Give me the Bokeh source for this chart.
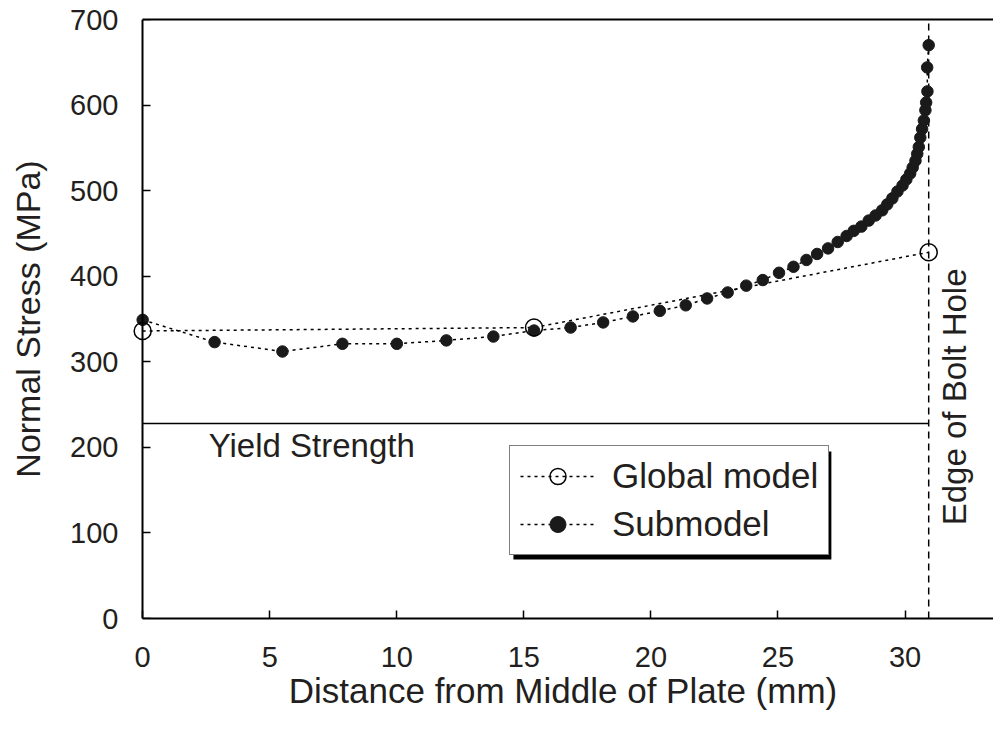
import math
from bokeh.plotting import figure
from bokeh.models import (Range1d, FixedTicker, Label, Legend, LegendItem,
                          BoxAnnotation, LinearAxis)
from bokeh.embed import file_html
from bokeh.resources import INLINE

# ---- data ----
global_x = [0.0, 15.4, 30.93]
global_y = [336, 340, 428]

sub_x = [0.0, 2.83, 5.5, 7.86, 10.0, 11.95, 13.8, 15.4, 16.84, 18.12, 19.29,
         20.35, 21.37, 22.21, 23.02, 23.75, 24.4, 25.04, 25.61, 26.12, 26.54,
         26.97, 27.35, 27.7, 27.98, 28.28, 28.57, 28.84, 29.1, 29.3, 29.5,
         29.7, 29.9, 30.05, 30.2, 30.3, 30.41, 30.48, 30.54, 30.6, 30.67,
         30.74, 30.8, 30.83, 30.88, 30.87, 30.93]
sub_y = [349, 323, 312, 321, 321, 325, 329.5, 336.5, 340, 346, 353,
         359.5, 366, 374, 381, 389, 395.5, 404, 411, 419, 426,
         432.5, 440, 447, 453, 458, 465, 471, 477, 484, 491,
         499, 506, 513, 520, 527, 535, 543, 551, 562, 572,
         582, 594, 603, 616, 644, 670]

yield_strength = 228
hole_edge = 30.93
yield_x = [0.0, hole_edge]
yield_y = [yield_strength, yield_strength]
edge_x = [hole_edge, hole_edge]
edge_y = [0, 700]

x_ticks = [0, 5, 10, 15, 20, 25, 30]
y_ticks = [0, 100, 200, 300, 400, 500, 600, 700]

X_START = -0.4
X_END = 33.48
FONT = "Liberation Sans"
TXT = "#231f20"

p = figure(width=993, height=736, output_backend="svg", toolbar_location=None,
           x_range=Range1d(X_START, X_END), y_range=Range1d(0, 700),
           min_border_left=132, min_border_right=0, min_border_top=19,
           min_border_bottom=118)
p.outline_line_color = None
p.grid.visible = False
p.background_fill_color = "white"

xax = p.below[0]
yax = p.left[0]

# top border
top_axis = LinearAxis(bounds=(0, X_END), major_tick_line_color=None,
                      minor_tick_line_color=None, major_label_text_font_size="0px",
                      major_label_text_color=None, major_label_standoff=0,
                      axis_line_width=2, axis_line_color="black",
                      ticker=FixedTicker(ticks=[]))
p.add_layout(top_axis, "above")

# y axis line + ticks drawn at x = 0
y_line_axis = LinearAxis(fixed_location=0, ticker=FixedTicker(ticks=y_ticks),
                         major_tick_in=8, major_tick_out=0,
                         major_tick_line_width=1.5, major_tick_line_color="black",
                         minor_tick_line_color=None,
                         major_label_text_font_size="0px",
                         major_label_text_color=None, major_label_standoff=0,
                         axis_line_width=2, axis_line_color="black")
p.add_layout(y_line_axis, "left")

for ax in (xax, yax):
    ax.minor_tick_line_color = None
    ax.major_label_text_font = FONT
    ax.major_label_text_font_size = "29px"
    ax.major_label_text_color = TXT
    ax.axis_label_text_font = FONT
    ax.axis_label_text_font_style = "normal"
    ax.axis_label_text_color = TXT

xax.axis_line_width = 2
xax.axis_line_color = "black"
xax.major_tick_in = 8
xax.major_tick_out = 0
xax.major_tick_line_width = 1.5
xax.major_tick_line_color = "black"
xax.ticker = FixedTicker(ticks=x_ticks)
xax.bounds = (0, X_END)
xax.axis_label = "Distance from Middle of Plate (mm)"
xax.axis_label_text_font_size = "35px"
xax.major_label_standoff = 28
xax.axis_label_standoff = 1

yax.axis_line_color = None
yax.major_tick_line_color = None
yax.major_tick_in = 0
yax.major_tick_out = 0
yax.ticker = FixedTicker(ticks=y_ticks)
yax.axis_label = "Normal Stress (MPa)"
yax.axis_label_text_font_size = "34px"
yax.major_label_standoff = 14
yax.axis_label_standoff = 20

# legend shadow
shadow = BoxAnnotation(left=14.59, right=27.1, top=195.2, bottom=68.9,
                       fill_color="black", fill_alpha=1.0, line_color=None,
                       level="underlay")
p.add_layout(shadow)

# yield strength line and edge line
p.line(yield_x, yield_y, line_color="black", line_width=1.5)
p.line(edge_x, edge_y, line_color="black", line_width=1.5, line_dash="7 5")

gl_line = p.line(global_x, global_y, line_color="black", line_width=1.5,
                 line_dash="3 4")
sub_line = p.line(sub_x, sub_y, line_color="black", line_width=1.5,
                  line_dash="3 4")
sub_pts = p.scatter(sub_x, sub_y, size=11.5, fill_color="#1a1a1a",
                    line_color="#1a1a1a", marker="circle")
gl_pts = p.scatter(global_x, global_y, size=17, fill_color=None,
                   line_color="black", line_width=1.5, marker="circle")

legend = Legend(items=[LegendItem(label="Global model", renderers=[gl_line, gl_pts]),
                       LegendItem(label="Submodel", renderers=[sub_line, sub_pts])],
                location=(377, 63))
legend.label_text_font = FONT
legend.label_text_font_size = "35px"
legend.label_text_color = TXT
legend.glyph_width = 75
legend.glyph_height = 40
legend.label_height = 40
legend.spacing = 8
legend.padding = 10
legend.margin = 0
legend.label_standoff = 17
legend.border_line_color = "black"
legend.border_line_width = 1.5
legend.background_fill_color = "white"
legend.background_fill_alpha = 1.0
p.add_layout(legend)

p.add_layout(Label(x=2.6, y=202, text="Yield Strength", text_font=FONT,
                   text_font_size="33px", text_baseline="middle",
                   text_color=TXT))
p.add_layout(Label(x=31.94, y=259, text="Edge of Bolt Hole", text_font=FONT,
                   text_font_size="33px", text_baseline="middle",
                   text_align="center", angle=math.pi / 2, text_color=TXT))

open("out.html", "w").write(file_html(p, INLINE))
